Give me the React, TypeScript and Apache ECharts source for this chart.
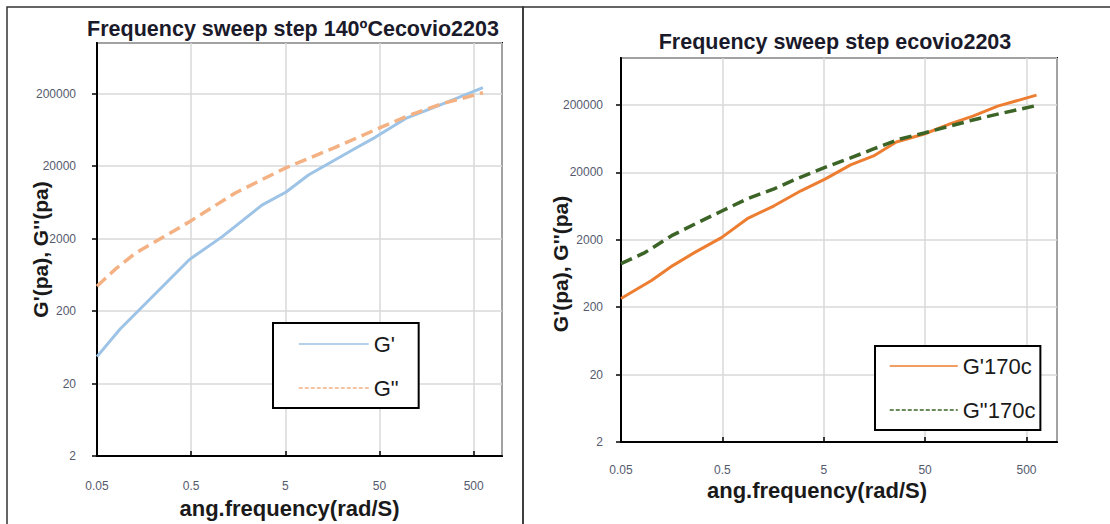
import React, { useEffect, useRef } from "react";
import * as echarts from "echarts";

// ---- data ----
const X_TICK_LABELS = ["0.05", "0.5", "5", "50", "500"];
const Y_TICK_LABELS = ["2", "20", "200", "2000", "20000", "200000"];
const X_MIN = 0.05;
const X_MAX = 1000;
const Y_MIN = 2;
const Y_MAX = 1000000;

// Left chart: 140ºC
const FREQ_L_GP = [0.05, 0.088, 0.48, 1.07, 2.85, 5.1, 8.8, 27.8, 45, 95, 212, 628];
const GP_L = [47, 113, 1031, 2130, 5850, 8800, 15060, 35300, 49900, 91000, 137000, 242000];
const FREQ_L_GPP = [0.05, 0.08, 0.127, 0.48, 1.47, 5.0, 17, 48.8, 102, 234, 628];
const GPP_L = [440, 776, 1250, 3420, 8530, 18800, 36400, 66300, 100000, 146000, 206000];

// Right chart: 170c
const FREQ_R_GP = [0.05, 0.1, 0.162, 0.265, 0.49, 0.88, 1.62, 2.98, 5.2, 9.2, 15.5, 26, 49, 88, 148, 260, 628];
const GP_R = [270, 498, 830, 1294, 2158, 4120, 6410, 10690, 16080, 25900, 35200, 56700, 74500, 105000, 137000, 193000, 281000];
const FREQ_R_GPP = [0.05, 0.086, 0.158, 0.284, 0.5, 0.88, 1.62, 2.7, 5, 9.2, 15.5, 28.4, 49, 88, 148, 260, 628];
const GPP_R = [889, 1294, 2307, 3590, 5410, 8130, 11430, 16080, 23400, 32900, 44700, 62800, 77100, 97800, 120000, 147000, 197000];

const TITLE_L = "Frequency sweep step 140ºCecovio2203";
const TITLE_R = "Frequency sweep step ecovio2203";
const X_NAME = "ang.frequency(rad/S)";
const Y_NAME = "G'(pa), G''(pa)";

// decade-based coordinates (log10 relative to the axis minimum)
const lx = (w: number) => Math.log10(w / X_MIN);
const ly = (v: number) => Math.log10(v / Y_MIN);
const pairs = (xs: number[], ys: number[]) => xs.map((x, i) => [lx(x), ly(ys[i])]);

const tickLabel = (labels: string[]) => (v: number) => {
  const i = Math.round(v);
  if (Math.abs(v - i) > 1e-6 || i < 0 || i >= labels.length) return "";
  return labels[i];
};

const FONT = "Liberation Sans, Arial, sans-serif";

function makeXAxis(gridIndex: number, margin: number, nameGap: number, namePad: number[]) {
  return {
    type: "value",
    gridIndex,
    min: 0,
    max: lx(X_MAX),
    interval: 1,
    name: X_NAME,
    nameLocation: "middle",
    nameGap,
    nameMoveOverlap: false,
    nameTextStyle: {
      fontFamily: FONT,
      fontWeight: "bold",
      fontSize: 22,
      color: "#1a1a1a",
      padding: namePad,
    },
    axisLine: { show: true, onZero: false, lineStyle: { color: "#000", width: 2 } },
    axisTick: { show: true, inside: true, length: 5, lineStyle: { color: "#000", width: 1.5 } },
    axisLabel: {
      formatter: tickLabel(X_TICK_LABELS),
      margin,
      fontFamily: FONT,
      fontSize: 12,
      color: "#555a6e",
      showMaxLabel: false,
    },
    splitLine: { show: true, lineStyle: { color: "#d9d9d9", width: 1.5 } },
  };
}

function makeYAxis(gridIndex: number, margin: number, nameGap: number, namePad: number[]) {
  return {
    type: "value",
    gridIndex,
    min: 0,
    max: ly(Y_MAX),
    interval: 1,
    name: Y_NAME,
    nameLocation: "middle",
    nameGap,
    nameRotate: 90,
    nameMoveOverlap: false,
    nameTextStyle: {
      fontFamily: FONT,
      fontWeight: "bold",
      fontSize: 21,
      color: "#1a1a1a",
      padding: namePad,
    },
    axisLine: { show: true, onZero: false, lineStyle: { color: "#000", width: 2 } },
    axisTick: { show: true, inside: false, length: 5, lineStyle: { color: "#000", width: 1.5 } },
    axisLabel: {
      formatter: tickLabel(Y_TICK_LABELS),
      margin,
      fontFamily: FONT,
      fontSize: 12,
      color: "#555a6e",
      showMaxLabel: false,
    },
    splitLine: { show: true, lineStyle: { color: "#d9d9d9", width: 1.5 } },
  };
}

const legendBase = {
  orient: "vertical",
  itemHeight: 2,
  itemGap: 22,
  borderColor: "#000",
  borderWidth: 2,
  backgroundColor: "#fff",
  itemStyle: { opacity: 0, borderWidth: 0 },
  textStyle: { fontFamily: FONT, fontSize: 22, color: "#1a1a1a", lineHeight: 22 },
};

export default function App() {
  const ref = useRef<HTMLDivElement>(null);

  useEffect(() => {
    if (!ref.current) return;
    const chart = echarts.init(ref.current, null, { renderer: "svg" });

    const option = {
      animation: false,
      backgroundColor: "#ffffff",
      title: [
        {
          text: TITLE_L,
          left: 288,
          top: 13,
          textAlign: "center",
          textStyle: { fontFamily: FONT, fontWeight: "bold", fontSize: 21.5, color: "#1a1a2a" },
        },
        {
          text: TITLE_R,
          left: 830,
          top: 26,
          textAlign: "center",
          textStyle: { fontFamily: FONT, fontWeight: "bold", fontSize: 21.5, color: "#1a1a2a" },
        },
      ],
      grid: [
        { left: 97, top: 43, width: 405, height: 415, show: true, borderColor: "#000", borderWidth: 2, backgroundColor: "#fff" },
        { left: 621, top: 58, width: 436, height: 384, show: true, borderColor: "#000", borderWidth: 2, backgroundColor: "#fff" },
      ],
      xAxis: [makeXAxis(0, 24, 41, [0, 20, 0, 0]), makeXAxis(1, 22, 37, [0, 44, 0, 0])],
      yAxis: [makeYAxis(0, 21, 46, [0, 0, 0, 0]), makeYAxis(1, 18, 50, [0, 28, 0, 0])],
      legend: [
        {
          ...legendBase,
          left: 273,
          top: 323,
          itemWidth: 70,
          padding: [10, 20, 9, 25],
          data: [
            { name: "G'", lineStyle: { width: 1.5 } },
            { name: 'G"', lineStyle: { width: 1.5, type: [4, 2] } },
          ],
        },
        {
          ...legendBase,
          left: 875,
          top: 346,
          itemWidth: 68,
          padding: [9, 5, 9, 14],
          data: [
            { name: "G'170c", lineStyle: { width: 1.5 } },
            { name: 'G"170c', lineStyle: { width: 1.5, type: [4, 2] } },
          ],
        },
      ],
      graphic: [
        {
          type: "rect",
          shape: { x: 7, y: 7, width: 516, height: 540 },
          style: { fill: "none", stroke: "#333", lineWidth: 1.5 },
          silent: true,
          z: -10,
        },
        {
          type: "rect",
          shape: { x: 523, y: 7, width: 600, height: 540 },
          style: { fill: "none", stroke: "#333", lineWidth: 1.5 },
          silent: true,
          z: -10,
        },
      ],
      series: [
        {
          name: "G'",
          type: "line",
          xAxisIndex: 0,
          yAxisIndex: 0,
          data: pairs(FREQ_L_GP, GP_L),
          showSymbol: false,
          symbol: "none",
          lineStyle: { color: "#9dc3e6", width: 3 },
          itemStyle: { color: "#9dc3e6" },
        },
        {
          name: 'G"',
          type: "line",
          xAxisIndex: 0,
          yAxisIndex: 0,
          data: pairs(FREQ_L_GPP, GPP_L),
          showSymbol: false,
          symbol: "none",
          lineStyle: { color: "#f4b183", width: 3.5, type: [12, 6] },
          itemStyle: { color: "#f4b183" },
        },
        {
          name: "G'170c",
          type: "line",
          xAxisIndex: 1,
          yAxisIndex: 1,
          data: pairs(FREQ_R_GP, GP_R),
          showSymbol: false,
          symbol: "none",
          lineStyle: { color: "#ed7d31", width: 3 },
          itemStyle: { color: "#ed7d31" },
        },
        {
          name: 'G"170c',
          type: "line",
          xAxisIndex: 1,
          yAxisIndex: 1,
          data: pairs(FREQ_R_GPP, GPP_R),
          showSymbol: false,
          symbol: "none",
          lineStyle: { color: "#3b6426", width: 3.5, type: [12, 6] },
          itemStyle: { color: "#3b6426" },
        },
      ],
    };

    chart.setOption(option as any);
    return () => chart.dispose();
  }, []);

  return (
    <div
      ref={ref}
      style={{ position: "absolute", left: 0, top: 0, width: 1110, height: 524, background: "#fff" }}
    />
  );
}
